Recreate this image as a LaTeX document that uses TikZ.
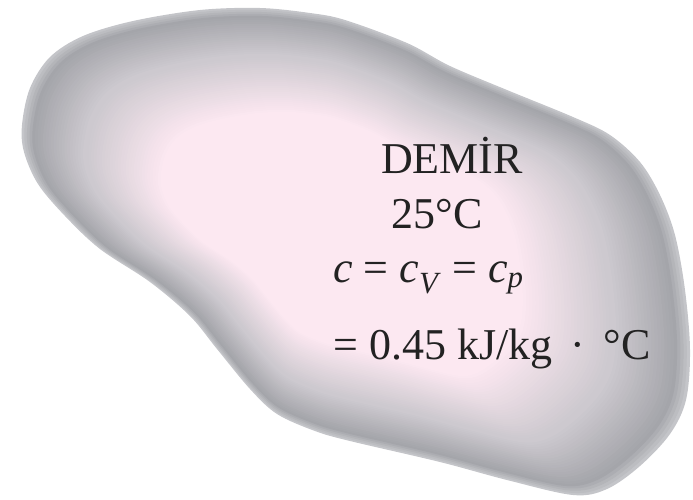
\documentclass[tikz,border=0pt]{standalone}
\usepackage{fontspec}
\setmainfont{Liberation Serif}
\definecolor{rim}{HTML}{C4C5C9}
\definecolor{dark}{HTML}{A4A5AA}
\definecolor{mid}{HTML}{CDC9CF}
\definecolor{core}{HTML}{FCE8F1}
\definecolor{ink}{HTML}{222222}
\tikzset{
  lbl/.style={font=\fontsize{44}{48}\selectfont, text=ink, inner sep=0pt},
}
% outline of the iron piece, in picture pixels
\newcommand\ironblob{plot[smooth cycle,tension=0.55] coordinates {
  (22,125) (30,88) (50,57) (83,36) (133,21) (200,10) (260,8) (310,13)
  (345,20) (407,43) (450,66) (507,90) (573,117) (610,135) (640,162)
  (660,195) (675,235) (685,290) (690,350) (686,400) (670,434) (640,466)
  (607,489) (573,495) (507,480) (440,462) (350,441) (315,431) (277,414)
  (250,389) (217,349) (190,316) (150,282) (100,249) (65,216) (38,184)
  (24,152)}}
\begin{document}
\begin{tikzpicture}[x=1pt,y=-1pt]
  \useasboundingbox (0,0) rectangle (693,499);
  % shaded body: shrinking copies from gray rim to pink core
  \foreach \i in {0,...,52} {
    \pgfmathsetmacro\s{1-0.0088*\i}
    \ifnum\i<5 \pgfmathtruncatemacro\p{\i*25}\colorlet{ring}{dark!\p!rim}
    \else\ifnum\i<24 \pgfmathtruncatemacro\p{(\i-4)*100/19}\colorlet{ring}{mid!\p!dark}
    \else \pgfmathtruncatemacro\p{(\i-24)*100/28}\colorlet{ring}{core!\p!mid}\fi\fi
    \fill[ring,shift={(325,235)},scale=\s,shift={(-325,-235)}] \ironblob;
  }
  \node[lbl,anchor=base] (demir) at (452,173) {DEMİR};
  \node[lbl,anchor=base] (temp) at (437,228) {25°C};
  \node[lbl,anchor=base west] (heat) at (333,282)
    {\textit{c} = \textit{c}\textsubscript{\textit{V}} = \textit{c}\textsubscript{\textit{p}}};
  \node[lbl,anchor=base west] (value) at (333,359) {= 0.45 kJ/kg \,·\, °C};
\end{tikzpicture}
\end{document}
